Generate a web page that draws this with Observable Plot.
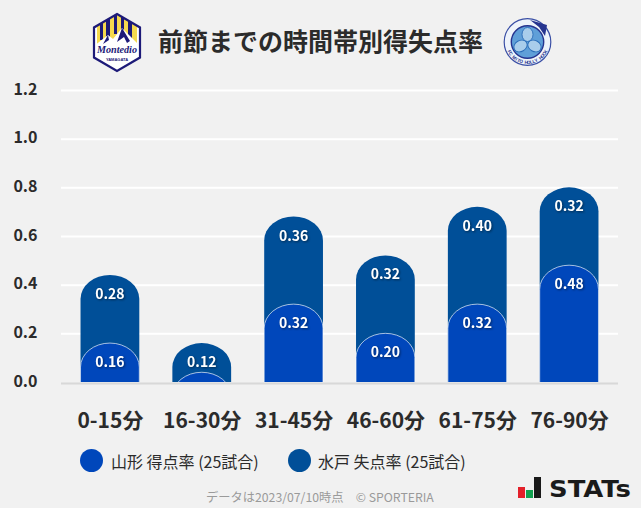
<!DOCTYPE html>
<html lang="ja"><head><meta charset="utf-8">
<script src="https://cdn.jsdelivr.net/npm/d3@7"></script>
<script src="https://cdn.jsdelivr.net/npm/@observablehq/plot@0.6"></script>
<style>
html,body{margin:0;padding:0;background:#f1f1f1;}
body{width:641px;height:508px;position:relative;overflow:hidden;font-family:"Noto Sans CJK JP","Noto Sans",sans-serif;}
#chart{position:absolute;left:0;top:0;}
#chart svg{background:transparent;display:block;}
.abs{position:absolute;white-space:nowrap;}
h1{margin:0;font-size:25px;line-height:30px;font-weight:700;color:#2b2b2b;left:158px;top:25px;}
.dot{width:23px;height:23px;border-radius:50%;top:449px;}
.leg{font-size:16px;line-height:20px;color:#2b2b2b;top:451px;}
#foot{font-size:12.25px;line-height:16px;color:#9a9a9a;left:206px;top:489px;}
.lbl text{filter:drop-shadow(1px 1px 1px rgba(0,0,0,.45));}
</style></head><body>
<div id="chart"></div>
<h1 class="abs">前節までの時間帯別得失点率</h1>
<svg class="abs" style="left:90px;top:10px" width="54" height="66" viewBox="90 10 54 66">
 <defs><clipPath id="hx"><path d="M117 14L140 27.5V57.5L117 71L94 57.5V27.5Z"/></clipPath></defs>
 <path d="M117 14L140 27.5V57.5L117 71L94 57.5V27.5Z" fill="#fff"/>
 <g clip-path="url(#hx)">
  <rect x="97" y="14" width="40" height="30" fill="#f5d94e"/>
  <g fill="#1d1a78"><rect x="100" y="14" width="3" height="26"/><rect x="106" y="14" width="4" height="26"/><rect x="114" y="14" width="3" height="20"/><rect x="121" y="14" width="3" height="26"/><rect x="128" y="14" width="4" height="26"/></g>
  <path d="M94 46L108 35L113 39L122 28L140 46V49H94Z" fill="#fff"/>
  <path d="M108 35L103 44L109 40ZM122 28L117 42L124 37L127 43L130 41Z" fill="#1d1a78"/>
 </g>
 <path d="M117 14L140 27.5V57.5L117 71L94 57.5V27.5Z" fill="none" stroke="#1d1a78" stroke-width="2.2"/>
 <text x="117" y="53" text-anchor="middle" font-family="Liberation Serif" font-style="italic" font-weight="700" font-size="11" fill="#1d1a78" textLength="40" lengthAdjust="spacingAndGlyphs">Montedio</text>
 <text x="117" y="61" text-anchor="middle" font-family="Liberation Sans" font-weight="700" font-size="4" fill="#1d1a78">YAMAGATA</text>
</svg>
<svg class="abs" id="mito" style="left:500px;top:15px" width="55" height="55" viewBox="500 15 55 55">
 <circle cx="527.5" cy="42" r="23.3" fill="#eef3fa" stroke="#3a4fa5" stroke-width="1.2"/>
 <circle cx="527.5" cy="42" r="16.2" fill="#5f9fd8" stroke="#26348f" stroke-width="1.4"/>
 <g fill="#a9cdeb" stroke="#2a6cb8" stroke-width=".9"><ellipse cx="527.5" cy="34.5" rx="5.5" ry="7"/><ellipse cx="520.5" cy="46" rx="5.5" ry="7" transform="rotate(-120 520.5 46)"/><ellipse cx="534.5" cy="46" rx="5.5" ry="7" transform="rotate(120 534.5 46)"/></g>
 <path d="M530 20L547 25L545 36L539 27Z" fill="#26348f"/>
</svg>
<div class="abs dot" style="left:80px;background:#0047bb"></div>
<div class="abs leg" style="left:111px">山形 得点率 (25試合)</div>
<div class="abs dot" style="left:288px;background:#004f98"></div>
<div class="abs leg" style="left:318px">水戸 失点率 (25試合)</div>
<div id="foot" class="abs">データは2023/07/10時点　© SPORTERIA</div>
<svg class="abs" style="left:515px;top:474px" width="126" height="30" viewBox="515 474 126 30">
 <rect x="518" y="487" width="7" height="11" fill="#e3202a"/>
 <rect x="526" y="490" width="7" height="8" fill="#12a150"/>
 <rect x="534" y="477" width="7" height="21" fill="#1a1a1a"/>
 <text x="549" y="497" font-family="DejaVu Sans" font-weight="700" font-size="23" fill="#1a1a1a" textLength="82" lengthAdjust="spacingAndGlyphs">STATs</text>
</svg>
<script>
const periods = ["0-15分","16-30分","31-45分","46-60分","61-75分","76-90分"];
const yamagataFor = [0.16,0.04,0.32,0.20,0.32,0.48];
const mitoAgainst = [0.28,0.12,0.36,0.32,0.40,0.32];
const yTicks = [0,0.2,0.4,0.6,0.8,1.0,1.2];
const colorFor = "#0047bb", colorAgainst = "#004f98";

const rows = periods.map((p,i)=>({period:p, low:yamagataFor[i], high:mitoAgainst[i], total:yamagataFor[i]+mitoAgainst[i]}));
const below = -0.5;
const barShape = {x:"period", y1:()=>below, rx:29.5, ry:24, clip:true};

const plot = Plot.plot({
  width:641, height:440,
  marginLeft:64, marginRight:26, marginTop:90, marginBottom:58,
  style:{background:"transparent",fontFamily:'"Noto Sans CJK JP","Noto Sans",sans-serif',overflow:"visible"},
  x:{domain:periods,paddingInner:0.36,paddingOuter:0.18,align:0.5,round:false,label:null},
  y:{domain:[0,1.2],label:null},
  marks:[
    Plot.ruleY(yTicks.slice(1),{stroke:"#fff",strokeWidth:2,insetLeft:-3,insetRight:-3}),
    Plot.barY(rows,{...barShape,y2:"total",fill:colorAgainst}),
    Plot.barY(rows,{...barShape,y2:"low",fill:colorFor,stroke:"#fff",strokeOpacity:0.65,strokeWidth:1}),
    Plot.ruleY([0],{stroke:"#d8d8d8",strokeWidth:2,dy:1,insetLeft:-3,insetRight:-3}),
    Plot.axisY({ticks:yTicks,tickFormat:d3.format(".1f"),tickSize:0,tickPadding:27,dy:-1,fontSize:16,fontWeight:700,fill:"#2b2b2b",label:null}),
    Plot.axisX({tickSize:0,tickPadding:31,fontSize:21,fontWeight:700,fill:"#2b2b2b",label:null}),
    Plot.text(rows,{x:"period",y:"total",text:d=>d.high.toFixed(2),dy:19,dx:-0.5,fill:"#fff",fontSize:14,fontWeight:700,className:"lbl"}),
    Plot.text(rows.filter(d=>d.low>=0.1),{x:"period",y:"low",text:d=>d.low.toFixed(2),dy:19,dx:-0.5,fill:"#fff",fontSize:14,fontWeight:700,className:"lbl"})
  ]
});
document.getElementById("chart").appendChild(plot);

// Lettering round the lower rim of the Mito crest, one upright glyph at a time.
const crest = document.getElementById("mito");
const crestText = "FC MITO HOLLY HOCK";
[...crestText].forEach((ch,i)=>{
  if (ch===" ") return;
  const angle = 62 - i*124/(crestText.length-1);
  const t = document.createElementNS("http://www.w3.org/2000/svg","text");
  t.setAttribute("text-anchor","middle");
  t.setAttribute("font-family","Liberation Sans");
  t.setAttribute("font-weight","700");
  t.setAttribute("font-size","4.6");
  t.setAttribute("fill","#26348f");
  t.setAttribute("transform",`rotate(${angle} 527.5 42) translate(527.5 64)`);
  t.textContent = ch;
  crest.appendChild(t);
});
</script>
</body></html>
